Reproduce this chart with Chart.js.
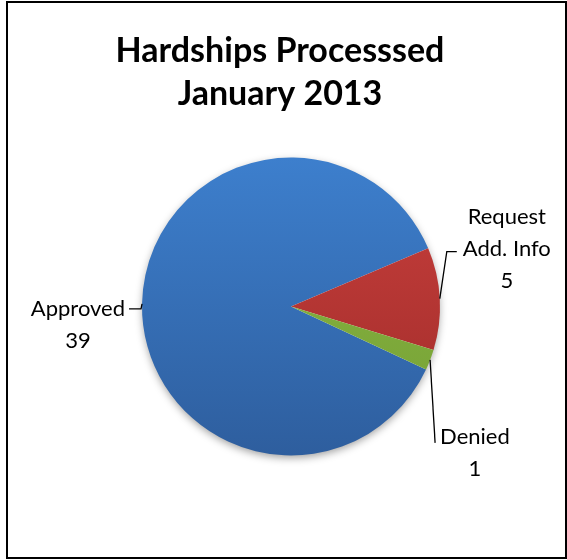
<!DOCTYPE html>
<html>
<head>
<meta charset="utf-8">
<script src="https://cdn.jsdelivr.net/npm/chart.js@4/dist/chart.umd.min.js"></script>
<style>
  html, body { margin: 0; padding: 0; background: #fff; }
  #wrap { width: 567px; height: 560px; position: relative; }
</style>
</head>
<body>
<div id="wrap"><canvas id="pie" width="567" height="560"></canvas></div>
<script>
// Chart data
const categories = ['Approved', 'Request Add. Info', 'Denied'];
const counts = [39, 5, 1];
const labelLines = [['Approved', '39'], ['Request', 'Add. Info', '5'], ['Denied', '1']];
const titleLines = ['Hardships Processsed', 'January 2013'];

// slice colours, top and bottom of the gradient
const topColors = ['#3d7fcd', '#c9403d', '#8cb746'];
const bottomColors = ['#2e5e9e', '#9f2b29', '#74a033'];

const RADIUS = 149;

function sliceFill(ctx) {
  const chart = ctx.chart;
  const area = chart.chartArea;
  const i = ctx.dataIndex;
  if (!area) return topColors[i];
  const cy = (area.top + area.bottom) / 2;
  const g = chart.ctx.createLinearGradient(0, cy - RADIUS, 0, cy + RADIUS);
  g.addColorStop(0, topColors[i]);
  g.addColorStop(1, bottomColors[i]);
  return g;
}

// frame around the whole chart + the two-line title (Excel puts it a bit left of the pie)
const framePlugin = {
  id: 'frame',
  beforeDraw(chart) {
    const c = chart.ctx;
    c.save();
    c.fillStyle = '#fff';
    c.fillRect(0, 0, chart.width, chart.height);
    c.strokeStyle = '#000';
    c.lineWidth = 2;
    c.strokeRect(7, 2, 559, 556);
    c.fillStyle = '#000';
    c.font = 'bold 34px Lato';
    c.textAlign = 'center';
    c.textBaseline = 'alphabetic';
    titleLines.forEach((t, k) => c.fillText(t, 280, 62 + k * 43));
    c.restore();
  }
};

// soft drop shadow under the pie
const shadowPlugin = {
  id: 'pieShadow',
  beforeDatasetsDraw(chart) {
    const arc = chart.getDatasetMeta(0).data[0];
    if (!arc) return;
    const c = chart.ctx;
    c.save();
    c.shadowColor = 'rgba(0,0,0,0.4)';
    c.shadowBlur = 9;
    c.shadowOffsetY = 3;
    c.fillStyle = '#fff';
    c.beginPath();
    c.arc(arc.x, arc.y, arc.outerRadius - 1, 0, Math.PI * 2);
    c.fill();
    c.restore();
  }
};

// leader lines: offsets from the slice edge point, then text block position
const leaders = [
  { path: [[-1, 5], [-13, 5]], textX: 0, textY: 5, align: 'right' },
  { path: [[7, -47], [17, -47]], textX: 67, textY: -82, align: 'center' },
  { path: [[5, 83]], textX: 0, textY: 77, align: 'left' }
];

const labelPlugin = {
  id: 'leaderLabels',
  afterDatasetsDraw(chart) {
    const c = chart.ctx;
    const meta = chart.getDatasetMeta(0);
    c.save();
    c.font = '22px Lato';
    c.fillStyle = '#000';
    c.strokeStyle = '#000';
    c.lineWidth = 1.3;
    c.textBaseline = 'middle';
    c.textAlign = 'center';
    meta.data.forEach((arc, i) => {
      const mid = (arc.startAngle + arc.endAngle) / 2;
      const ex = arc.x + Math.cos(mid) * arc.outerRadius;
      const ey = arc.y + Math.sin(mid) * arc.outerRadius;
      const L = leaders[i];
      c.beginPath();
      c.moveTo(ex, ey);
      L.path.forEach(p => c.lineTo(ex + p[0], ey + p[1]));
      c.stroke();
      const lines = labelLines[i];
      const lh = 32;
      const last = L.path[L.path.length - 1];
      const w = c.measureText(lines[0]).width;
      let cx;
      if (L.align === 'center') cx = ex + L.textX;
      else if (L.align === 'right') cx = ex + last[0] - 4 - w / 2;
      else cx = ex + last[0] + 5 + w / 2;
      lines.forEach((t, k) => c.fillText(t, cx, ey + L.textY + k * lh));
    });
    c.restore();
  }
};

const chart = initializeChart(document.getElementById('pie').getContext('2d'), {
  type: 'pie',
  data: {
    labels: categories,
    datasets: [{
      data: counts,
      backgroundColor: sliceFill,
      borderWidth: 0,
      radius: RADIUS
    }]
  },
  options: {
    responsive: false,
    animation: false,
    rotation: 115,
    layout: { padding: { left: 15, right: 0, top: 113, bottom: 60 } },
    plugins: {
      legend: { display: false },
      tooltip: { enabled: false },
      title: { display: false }
    }
  },
  plugins: [framePlugin, shadowPlugin, labelPlugin]
});

function initializeChart(ctx, chartConfig) {
  return new Chart(ctx, chartConfig);
}
</script>
</body>
</html>
